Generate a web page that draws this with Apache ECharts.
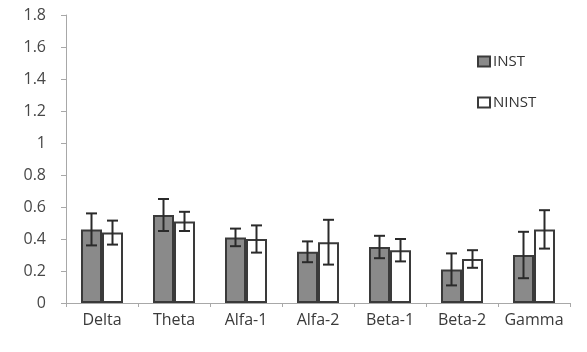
<!DOCTYPE html>
<html>
<head>
<meta charset="utf-8">
<script src="https://cdn.jsdelivr.net/npm/echarts@6/dist/echarts.min.js"></script>
<style>
  html, body { margin: 0; padding: 0; background: #fff; }
  #chart { width: 587px; height: 352px; }
</style>
</head>
<body>
<div id="chart"></div>
<script>
// EEG frequency bands
const categories = ['Delta', 'Theta', 'Alfa-1', 'Alfa-2', 'Beta-1', 'Beta-2', 'Gamma'];

// Group means and error half-widths
const instMean  = [0.46, 0.55, 0.41, 0.32, 0.35, 0.21, 0.30];
const instErr   = [0.10, 0.10, 0.055, 0.065, 0.07, 0.10, 0.145];
const ninstMean = [0.44, 0.51, 0.40, 0.38, 0.33, 0.275, 0.46];
const ninstErr  = [0.075, 0.06, 0.085, 0.14, 0.07, 0.055, 0.12];

const yTicks = { min: 0, max: 1.8, step: 0.2 };

const BAR_W = 21;
const CAP_W = 11;
const EDGE = '#3a3a3a';
const FONT = '"Open Sans", Lato, sans-serif';

function errorSeries(name, means, errs, shift) {
  return {
    type: 'custom',
    name: name + ' error',
    z: 5,
    encode: { x: 0, y: [1] },
    data: means.map((m, i) => [i, m, errs[i]]),
    renderItem: function (params, api) {
      const i = api.value(0), m = api.value(1), e = api.value(2);
      const hi = api.coord([i, m + e]);
      const lo = api.coord([i, m - e]);
      const x = hi[0] + shift;
      const st = { stroke: '#2a2a2a', lineWidth: 2 };
      return {
        type: 'group',
        children: [
          { type: 'line', shape: { x1: x, y1: hi[1], x2: x, y2: lo[1] }, style: st },
          { type: 'line', shape: { x1: x - CAP_W / 2, y1: hi[1], x2: x + CAP_W / 2, y2: hi[1] }, style: st },
          { type: 'line', shape: { x1: x - CAP_W / 2, y1: lo[1], x2: x + CAP_W / 2, y2: lo[1] }, style: st }
        ]
      };
    }
  };
}

const chart = echarts.init(document.getElementById('chart'), null, { renderer: 'canvas' });
chart.setOption({
  animation: false,
  textStyle: { fontFamily: FONT },
  grid: { left: 66, right: 17, top: 15, bottom: 49 },
  legend: {
    data: [{ name: 'INST', icon: 'rect' }, { name: 'NINST', icon: 'rect' }],
    orient: 'vertical',
    left: 472,
    top: 49,
    itemWidth: 12,
    itemHeight: 10,
    itemGap: 26,
    textStyle: { fontSize: 15, color: '#333', fontFamily: FONT, padding: [0, 0, 0, -2] }
  },
  xAxis: {
    type: 'category',
    data: categories,
    axisLine: { lineStyle: { color: '#a8a8a8', width: 1 } },
    axisTick: { show: true, length: 4, lineStyle: { color: '#a8a8a8' } },
    axisLabel: { fontSize: 16, color: '#3a3a3a', margin: 9, interval: 0, fontFamily: FONT }
  },
  yAxis: {
    type: 'value',
    min: yTicks.min,
    max: yTicks.max,
    interval: yTicks.step,
    axisLine: { show: true, lineStyle: { color: '#a8a8a8', width: 1 } },
    axisTick: { show: true, length: 5, lineStyle: { color: '#a8a8a8' } },
    splitLine: { show: false },
    axisLabel: { fontSize: 16, color: '#474747', margin: 20, fontFamily: FONT }
  },
  series: [
    {
      name: 'INST',
      type: 'bar',
      data: instMean,
      barWidth: BAR_W,
      barGap: '0%',
      itemStyle: { color: '#8a8a8a', borderColor: EDGE, borderWidth: 2 }
    },
    {
      name: 'NINST',
      type: 'bar',
      data: ninstMean,
      barWidth: BAR_W,
      barGap: '0%',
      itemStyle: { color: '#ffffff', borderColor: EDGE, borderWidth: 2 }
    },
    errorSeries('INST', instMean, instErr, -BAR_W / 2),
    errorSeries('NINST', ninstMean, ninstErr, BAR_W / 2)
  ]
});
</script>
</body>
</html>
